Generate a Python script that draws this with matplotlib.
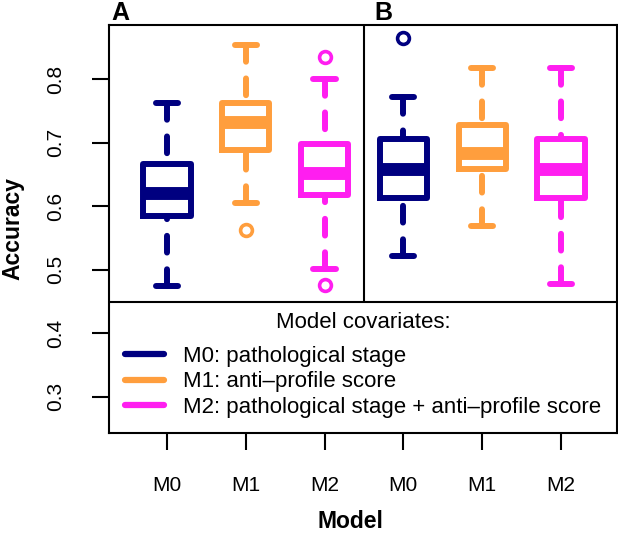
import matplotlib
matplotlib.use("Agg")
import matplotlib.pyplot as plt
from matplotlib.lines import Line2D

plt.rcParams['font.family'] = ['Liberation Sans', 'DejaVu Sans']

# valores (A: M0, M1, M2 ; B: M0, M1, M2)
modelos = ['M0', 'M1', 'M2', 'M0', 'M1', 'M2']
bigote_inf = [0.475, 0.605, 0.501, 0.522, 0.568, 0.477]
q1 = [0.584, 0.689, 0.618, 0.613, 0.659, 0.613]
mediana = [0.621, 0.732, 0.652, 0.658, 0.683, 0.659]
q3 = [0.667, 0.762, 0.697, 0.705, 0.727, 0.705]
bigote_sup = [0.763, 0.853, 0.800, 0.772, 0.818, 0.818]
atipicos = [[], [0.563], [0.835, 0.476], [0.865], [], []]

leyenda = ['M0: pathological stage',
           'M1: anti\u2013profile score',
           'M2: pathological stage + anti\u2013profile score']

navy = '#000080'
naranja = '#FF9E3D'
magenta = '#FF1EF0'
colores = [navy, naranja, magenta]

fig = plt.figure(figsize=(6.18, 5.33), dpi=100)
ax = fig.add_axes([109/618, 1-433/533, 508/618, 408/533])

stats = []
for i in range(len(modelos)):
    stats.append(dict(label=modelos[i], whislo=bigote_inf[i], q1=q1[i], med=mediana[i],
                      q3=q3[i], whishi=bigote_sup[i], fliers=atipicos[i]))

res = ax.bxp(stats, positions=range(1, 7), widths=0.6, capwidths=0.28,
             boxprops=dict(lw=4.3, solid_joinstyle='round'),
             whiskerprops=dict(lw=4.3, linestyle=(0, (2.8, 2.8)), dash_capstyle='round'),
             capprops=dict(lw=4.3, solid_capstyle='round'),
             medianprops=dict(lw=9.3, solid_capstyle='butt'),
             flierprops=dict(marker='o', markerfacecolor='none', markersize=8.5, markeredgewidth=2.6))

for i in range(len(modelos)):
    c = colores[i % 3]
    res['boxes'][i].set_color(c)
    res['medians'][i].set_color(c)
    res['fliers'][i].set_markeredgecolor(c)
    for j in (2*i, 2*i+1):
        w = res['whiskers'][j]
        w.set_color(c)
        w.set_ydata(w.get_ydata()[::-1])
        res['caps'][j].set_color(c)

ax.set_xlim(0.266, 6.71)
ax.set_ylim(0.243, 0.885)
ax.set_yticks([0.3, 0.4, 0.5, 0.6, 0.7, 0.8])
ax.set_yticklabels(['0.3', '0.4', '0.5', '0.6', '0.7', '0.8'], rotation=90, va='center')
ax.tick_params(axis='both', length=12, width=1.5, labelsize=15)
ax.tick_params(axis='y', pad=19.5)
ax.tick_params(axis='x', pad=19)
for s in ax.spines.values():
    s.set_linewidth(1.5)

tope_leyenda = 0.449
ax.axhline(tope_leyenda, color='black', lw=1.5)
ax.vlines(3.5, tope_leyenda, 0.885, colors='black', lw=1.5)

manijas = [Line2D([], [], color=c, lw=4.5, solid_capstyle='round') for c in colores]
frac = (tope_leyenda - 0.243) / (0.885 - 0.243) - 4/408
leg = ax.legend(manijas, leyenda, title='Model covariates:', loc='upper left',
                bbox_to_anchor=(0.020, frac, 0.96, 0), mode='expand', borderaxespad=0,
                frameon=False, fontsize=16, title_fontsize=16, handlelength=1.76,
                handletextpad=0.86, labelspacing=0.2, borderpad=0.25)
leg._legend_box.sep = 9.5

fig.text(111/618, 1-20/533, 'A', fontsize=18, fontweight='bold', ha='left', va='baseline')
fig.text(374/618, 1-20/533, 'B', fontsize=18, fontweight='bold', ha='left', va='baseline')
fig.text(13/618, 1-229/533, 'Accuracy', fontsize=16.5, fontweight='bold', rotation=90,
         ha='center', va='center')
fig.text(350/618, 1-522/533, 'Model', fontsize=16.5, fontweight='bold', ha='center', va='center')

fig.savefig('out.png', dpi=100)
